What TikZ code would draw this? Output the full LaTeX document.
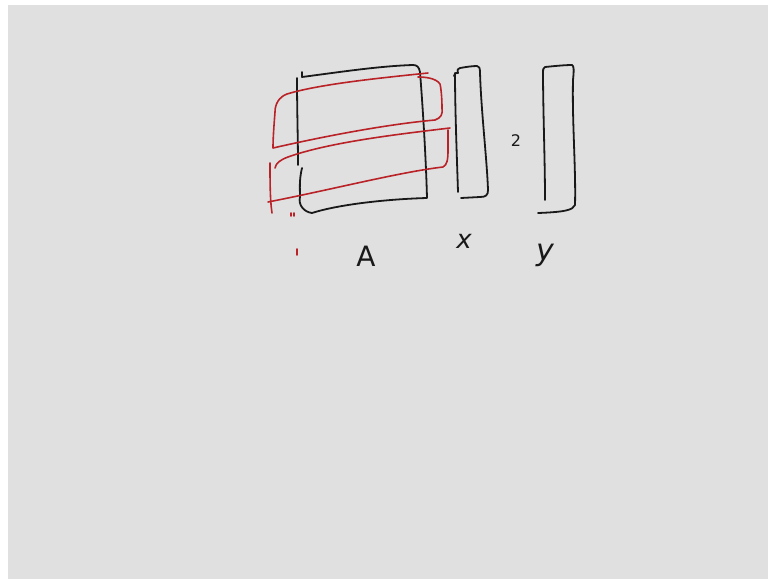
\documentclass[tikz,border=0pt]{standalone}
\usepackage{fontspec}
\setmainfont{DejaVu Sans}
\definecolor{board}{RGB}{224,224,224}
\definecolor{ink}{RGB}{25,25,25}
\definecolor{redink}{RGB}{185,35,40}
\begin{document}
\begin{tikzpicture}[x=1pt,y=-1pt,
  blk/.style={draw=ink,line width=1.8pt,line cap=round,line join=round},
  red/.style={draw=redink,line width=1.6pt,line cap=round,line join=round},
  lbl/.style={text=ink,inner sep=0pt}]
\useasboundingbox (0,0) rectangle (768,579);
\fill[white] (0,0) rectangle (768,579);
\fill[board] (8,5) rectangle (768,579);
% matrix A
\draw[blk] (302,72) -- (302,77) .. controls (340,72) and (380,66) .. (413,65)
  .. controls (417,65) and (419,67) .. (420,72)
  .. controls (423,110) and (426,160) .. (427,198)
  .. controls (390,199) and (340,204) .. (312,213)
  .. controls (304,212) and (298,205) .. (300,197)
  .. controls (300,190) and (299,180) .. (302,168);
\draw[blk] (297,78) .. controls (297,110) and (298,140) .. (298,165);
% red block 1
\draw[red] (428,73) .. controls (380,78) and (320,84) .. (287,94)
  .. controls (279,97) and (275,104) .. (275,112)
  .. controls (274,125) and (273,138) .. (273,148)
  .. controls (330,135) and (390,124) .. (435,120)
  .. controls (441,118) and (443,114) .. (442,108)
  .. controls (442,98) and (441,88) .. (440,84)
  .. controls (436,78) and (425,77) .. (418,77);
% red block 2
\draw[red] (450,128) .. controls (400,134) and (330,142) .. (288,157)
  .. controls (280,160) and (276,163) .. (275,168);
\draw[red] (268,202) .. controls (330,190) and (400,172) .. (443,167)
  .. controls (447,165) and (448,160) .. (448,150)
  .. controls (448,142) and (448,135) .. (448,130);
\draw[red] (270,163) .. controls (270,180) and (270,200) .. (272,213);
\draw[red] (291,213) -- (291,216) (294,213) -- (294,216);
\draw[red] (297,249) -- (297,255);
% vector x
\draw[blk] (454,76) .. controls (455,73) and (457,72) .. (458,73)
  .. controls (457,70) and (458,68) .. (460,68)
  .. controls (466,67) and (472,66) .. (477,66)
  .. controls (479,66) and (480,68) .. (480,72)
  .. controls (481,110) and (487,160) .. (488,190)
  .. controls (488,195) and (486,197) .. (480,197)
  -- (461,198);
\draw[blk] (455,73) .. controls (455,110) and (457,160) .. (458,192);
% vector y
\draw[blk] (543,72) .. controls (543,70) and (543,68) .. (545,67)
  .. controls (555,66) and (565,65) .. (572,65)
  .. controls (574,66) and (574,70) .. (573,80)
  .. controls (572,120) and (576,170) .. (575,205)
  .. controls (573,210) and (565,212) .. (538,213);
\draw[blk] (543,70) .. controls (543,110) and (545,160) .. (545,200);
% labels
\node[lbl,font=\fontsize{16}{16}\selectfont] (two) at (516,141) {2};
\node[lbl,font=\fontsize{28}{28}\selectfont] (A) at (366,256) {A};
\node[lbl,font=\fontsize{26}{26}\selectfont\itshape] (x) at (464,241) {x};
\node[lbl,font=\fontsize{30}{30}\selectfont\itshape] (y) at (545,255) {y};
\end{tikzpicture}
\end{document}
